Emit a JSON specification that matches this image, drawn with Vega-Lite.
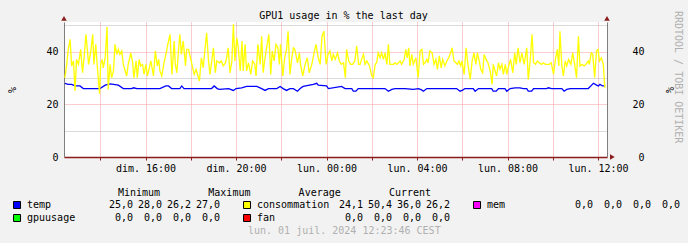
{
  "$schema": "https://vega.github.io/schema/vega-lite/v6.json",
  "background": "#f2f2f2",
  "autosize": {"type": "pad"},
  "padding": {"left": 6, "top": 10, "right": 60, "bottom": 60},
  "config": {
    "font": "DejaVu Sans Mono",
    "view": {"stroke": null},
    "locale": {
      "number": {"decimal": ",", "thousands": ".", "grouping": [3], "currency": ["", " €"]},
      "time": {"dateTime": "%A %e %B %Y à %X", "date": "%d/%m/%Y", "time": "%H:%M:%S", "periods": ["AM", "PM"],
        "days": ["dimanche", "lundi", "mardi", "mercredi", "jeudi", "vendredi", "samedi"],
        "shortDays": ["dim.", "lun.", "mar.", "mer.", "jeu.", "ven.", "sam."],
        "months": ["janvier", "février", "mars", "avril", "mai", "juin", "juillet", "août", "septembre", "octobre", "novembre", "décembre"],
        "shortMonths": ["janv.", "févr.", "mars", "avr.", "mai", "juin", "juil.", "août", "sept.", "oct.", "nov.", "déc."]}
    },
    "axis": {"labelFont": "DejaVu Sans Mono", "labelFontSize": 10, "labelColor": "#000000", "titleFont": "DejaVu Sans Mono", "titleFontSize": 10, "titleFontWeight": "normal", "titleColor": "#000000"},
    "title": {"font": "DejaVu Sans Mono", "fontSize": 10, "fontWeight": "normal", "color": "#000000"},
    "text": {"font": "DejaVu Sans Mono", "fontSize": 10, "color": "#000000"},
    "header": {"labels": false, "title": null},
    "headerFacet": {"labels": false, "title": null}
  },
  "datasets": {
    "temp": [
      {"t":"2024-06-30T12:26","v":28},{"t":"2024-06-30T12:35","v":27.6},{"t":"2024-06-30T12:44","v":27.6},{"t":"2024-06-30T12:53","v":27},
      {"t":"2024-06-30T13:06","v":27},{"t":"2024-06-30T13:15","v":26},{"t":"2024-06-30T13:59","v":26},{"t":"2024-06-30T14:13","v":27.3},
      {"t":"2024-06-30T14:26","v":27.8},{"t":"2024-06-30T14:48","v":27.3},{"t":"2024-06-30T15:01","v":26},{"t":"2024-06-30T15:23","v":26},
      {"t":"2024-06-30T15:28","v":26.3},{"t":"2024-06-30T15:37","v":26},{"t":"2024-06-30T16:38","v":26},{"t":"2024-06-30T16:54","v":27},
      {"t":"2024-06-30T17:01","v":27},{"t":"2024-06-30T17:09","v":26},{"t":"2024-06-30T17:31","v":26},{"t":"2024-06-30T17:36","v":27},
      {"t":"2024-06-30T17:42","v":26},{"t":"2024-06-30T18:55","v":26},{"t":"2024-06-30T19:02","v":27},{"t":"2024-06-30T19:10","v":26},
      {"t":"2024-06-30T19:16","v":25.7},{"t":"2024-06-30T19:40","v":26},{"t":"2024-06-30T19:53","v":25.3},{"t":"2024-06-30T20:00","v":26},
      {"t":"2024-06-30T20:15","v":26.3},{"t":"2024-06-30T20:28","v":26.8},{"t":"2024-06-30T20:55","v":26.8},{"t":"2024-06-30T21:08","v":26},
      {"t":"2024-06-30T21:17","v":25.3},{"t":"2024-06-30T21:26","v":26},{"t":"2024-06-30T21:48","v":26},{"t":"2024-06-30T21:57","v":26.8},
      {"t":"2024-06-30T22:05","v":26},{"t":"2024-06-30T22:14","v":25.3},{"t":"2024-06-30T22:23","v":26},{"t":"2024-06-30T22:32","v":26},
      {"t":"2024-06-30T22:43","v":25},{"t":"2024-06-30T22:50","v":26},{"t":"2024-06-30T22:58","v":26.8},{"t":"2024-06-30T23:25","v":27.6},
      {"t":"2024-06-30T23:34","v":28},{"t":"2024-06-30T23:38","v":27.3},{"t":"2024-07-01T00:00","v":27},{"t":"2024-07-01T00:05","v":26},
      {"t":"2024-07-01T00:40","v":26.8},{"t":"2024-07-01T00:49","v":26},{"t":"2024-07-01T01:07","v":26},{"t":"2024-07-01T01:11","v":25},
      {"t":"2024-07-01T01:18","v":25},{"t":"2024-07-01T01:24","v":26},{"t":"2024-07-01T02:35","v":26},{"t":"2024-07-01T02:44","v":25},
      {"t":"2024-07-01T02:53","v":25.7},{"t":"2024-07-01T03:02","v":26},{"t":"2024-07-01T03:28","v":26},{"t":"2024-07-01T03:50","v":25.7},
      {"t":"2024-07-01T04:04","v":26},{"t":"2024-07-01T04:12","v":25.5},{"t":"2024-07-01T04:17","v":25},{"t":"2024-07-01T04:26","v":26},
      {"t":"2024-07-01T05:45","v":26},{"t":"2024-07-01T05:54","v":25},{"t":"2024-07-01T06:01","v":25.4},{"t":"2024-07-01T06:07","v":26},
      {"t":"2024-07-01T06:29","v":26},{"t":"2024-07-01T06:34","v":25},{"t":"2024-07-01T06:43","v":26},{"t":"2024-07-01T07:18","v":26},
      {"t":"2024-07-01T07:22","v":25},{"t":"2024-07-01T07:30","v":25},{"t":"2024-07-01T07:36","v":26},{"t":"2024-07-01T07:53","v":26},
      {"t":"2024-07-01T07:58","v":25},{"t":"2024-07-01T08:07","v":26},{"t":"2024-07-01T08:20","v":26.3},{"t":"2024-07-01T08:33","v":26.3},
      {"t":"2024-07-01T08:42","v":26},{"t":"2024-07-01T08:51","v":26},{"t":"2024-07-01T08:55","v":25},{"t":"2024-07-01T09:04","v":25},
      {"t":"2024-07-01T09:09","v":26},{"t":"2024-07-01T09:44","v":26},{"t":"2024-07-01T09:48","v":26.3},{"t":"2024-07-01T09:57","v":26},
      {"t":"2024-07-01T10:24","v":26},{"t":"2024-07-01T10:30","v":25},{"t":"2024-07-01T10:37","v":25.7},{"t":"2024-07-01T10:46","v":26},
      {"t":"2024-07-01T11:34","v":26},{"t":"2024-07-01T11:43","v":27.3},{"t":"2024-07-01T11:48","v":28},{"t":"2024-07-01T11:56","v":27.3},
      {"t":"2024-07-01T12:01","v":27},{"t":"2024-07-01T12:05","v":27.6},{"t":"2024-07-01T12:12","v":27},{"t":"2024-07-01T12:19","v":27}
    ],
    "consommation": [
      {"t":"2024-06-30T12:26","v":30.1},{"t":"2024-06-30T12:31","v":35.2},{"t":"2024-06-30T12:35","v":40.9},{"t":"2024-06-30T12:40","v":44.7},
      {"t":"2024-06-30T12:44","v":34.6},{"t":"2024-06-30T12:49","v":36.5},{"t":"2024-06-30T12:53","v":25.1},{"t":"2024-06-30T12:57","v":37.1},
      {"t":"2024-06-30T13:02","v":35.2},{"t":"2024-06-30T13:08","v":40.9},{"t":"2024-06-30T13:13","v":32.0},{"t":"2024-06-30T13:17","v":37.7},
      {"t":"2024-06-30T13:22","v":46.6},{"t":"2024-06-30T13:26","v":40.3},{"t":"2024-06-30T13:29","v":35.2},{"t":"2024-06-30T13:35","v":40.3},
      {"t":"2024-06-30T13:40","v":46.6},{"t":"2024-06-30T13:43","v":35.2},{"t":"2024-06-30T13:48","v":42.8},{"t":"2024-06-30T13:52","v":34.6},
      {"t":"2024-06-30T13:58","v":24.1},{"t":"2024-06-30T14:01","v":35.2},{"t":"2024-06-30T14:05","v":37.1},{"t":"2024-06-30T14:08","v":33.9},
      {"t":"2024-06-30T14:13","v":37.7},{"t":"2024-06-30T14:18","v":49.4},{"t":"2024-06-30T14:21","v":25.7},{"t":"2024-06-30T14:26","v":35.2},
      {"t":"2024-06-30T14:30","v":30.1},{"t":"2024-06-30T14:35","v":32.7},{"t":"2024-06-30T14:39","v":42.8},{"t":"2024-06-30T14:44","v":39.0},
      {"t":"2024-06-30T14:48","v":40.9},{"t":"2024-06-30T14:52","v":39.0},{"t":"2024-06-30T14:57","v":40.3},{"t":"2024-06-30T15:01","v":35.2},
      {"t":"2024-06-30T15:06","v":32.7},{"t":"2024-06-30T15:10","v":30.8},{"t":"2024-06-30T15:14","v":35.2},{"t":"2024-06-30T15:21","v":39.6},
      {"t":"2024-06-30T15:26","v":35.8},{"t":"2024-06-30T15:29","v":30.1},{"t":"2024-06-30T15:35","v":36.5},{"t":"2024-06-30T15:38","v":30.1},
      {"t":"2024-06-30T15:43","v":37.1},{"t":"2024-06-30T15:47","v":34.6},{"t":"2024-06-30T15:52","v":35.2},{"t":"2024-06-30T15:56","v":31.4},
      {"t":"2024-06-30T16:01","v":35.2},{"t":"2024-06-30T16:05","v":30.8},{"t":"2024-06-30T16:10","v":33.9},{"t":"2024-06-30T16:14","v":36.5},
      {"t":"2024-06-30T16:21","v":30.8},{"t":"2024-06-30T16:26","v":40.3},{"t":"2024-06-30T16:31","v":34.6},{"t":"2024-06-30T16:35","v":37.1},
      {"t":"2024-06-30T16:38","v":32.7},{"t":"2024-06-30T16:43","v":30.8},{"t":"2024-06-30T16:49","v":35.8},{"t":"2024-06-30T16:54","v":39.0},
      {"t":"2024-06-30T17:01","v":44.1},{"t":"2024-06-30T17:05","v":46.6},{"t":"2024-06-30T17:10","v":31.4},{"t":"2024-06-30T17:16","v":44.1},
      {"t":"2024-06-30T17:19","v":35.2},{"t":"2024-06-30T17:23","v":32.0},{"t":"2024-06-30T17:28","v":41.5},{"t":"2024-06-30T17:31","v":46.6},
      {"t":"2024-06-30T17:35","v":39.0},{"t":"2024-06-30T17:40","v":44.1},{"t":"2024-06-30T17:46","v":34.6},{"t":"2024-06-30T17:49","v":40.9},
      {"t":"2024-06-30T17:54","v":40.9},{"t":"2024-06-30T18:00","v":37.1},{"t":"2024-06-30T18:03","v":35.2},{"t":"2024-06-30T18:09","v":31.4},
      {"t":"2024-06-30T18:14","v":33.3},{"t":"2024-06-30T18:19","v":30.8},{"t":"2024-06-30T18:23","v":28.9},{"t":"2024-06-30T18:28","v":37.7},
      {"t":"2024-06-30T18:33","v":33.9},{"t":"2024-06-30T18:38","v":41.5},{"t":"2024-06-30T18:42","v":47.2},{"t":"2024-06-30T18:47","v":36.5},
      {"t":"2024-06-30T18:51","v":31.4},{"t":"2024-06-30T18:55","v":35.8},{"t":"2024-06-30T19:00","v":41.5},{"t":"2024-06-30T19:05","v":32.0},
      {"t":"2024-06-30T19:09","v":36.5},{"t":"2024-06-30T19:16","v":35.8},{"t":"2024-06-30T19:21","v":36.5},{"t":"2024-06-30T19:26","v":34.6},
      {"t":"2024-06-30T19:32","v":35.8},{"t":"2024-06-30T19:35","v":37.7},{"t":"2024-06-30T19:39","v":41.5},{"t":"2024-06-30T19:44","v":32.0},
      {"t":"2024-06-30T19:49","v":36.5},{"t":"2024-06-30T19:53","v":50.4},{"t":"2024-06-30T19:57","v":36.5},{"t":"2024-06-30T20:02","v":45.3},
      {"t":"2024-06-30T20:06","v":41.5},{"t":"2024-06-30T20:11","v":32.7},{"t":"2024-06-30T20:16","v":44.1},{"t":"2024-06-30T20:19","v":32.7},
      {"t":"2024-06-30T20:24","v":42.8},{"t":"2024-06-30T20:28","v":32.7},{"t":"2024-06-30T20:33","v":35.8},{"t":"2024-06-30T20:39","v":31.4},
      {"t":"2024-06-30T20:44","v":36.5},{"t":"2024-06-30T20:50","v":35.2},{"t":"2024-06-30T20:53","v":30.8},{"t":"2024-06-30T20:58","v":42.8},
      {"t":"2024-06-30T21:04","v":35.2},{"t":"2024-06-30T21:08","v":45.9},{"t":"2024-06-30T21:12","v":32.0},{"t":"2024-06-30T21:17","v":37.7},
      {"t":"2024-06-30T21:21","v":41.5},{"t":"2024-06-30T21:27","v":46.6},{"t":"2024-06-30T21:32","v":31.4},{"t":"2024-06-30T21:36","v":40.3},
      {"t":"2024-06-30T21:41","v":36.5},{"t":"2024-06-30T21:46","v":42.8},{"t":"2024-06-30T21:51","v":41.5},{"t":"2024-06-30T21:55","v":35.2},
      {"t":"2024-06-30T21:58","v":42.8},{"t":"2024-06-30T22:04","v":30.8},{"t":"2024-06-30T22:09","v":37.7},{"t":"2024-06-30T22:14","v":40.9},
      {"t":"2024-06-30T22:18","v":47.8},{"t":"2024-06-30T22:23","v":31.4},{"t":"2024-06-30T22:28","v":37.7},{"t":"2024-06-30T22:32","v":41.5},
      {"t":"2024-06-30T22:36","v":40.9},{"t":"2024-06-30T22:43","v":35.8},{"t":"2024-06-30T22:48","v":39.6},{"t":"2024-06-30T22:51","v":35.2},
      {"t":"2024-06-30T22:57","v":30.8},{"t":"2024-06-30T23:03","v":35.2},{"t":"2024-06-30T23:09","v":37.7},{"t":"2024-06-30T23:14","v":32.0},
      {"t":"2024-06-30T23:21","v":35.2},{"t":"2024-06-30T23:27","v":39.6},{"t":"2024-06-30T23:32","v":42.8},{"t":"2024-06-30T23:38","v":37.7},
      {"t":"2024-06-30T23:43","v":35.2},{"t":"2024-06-30T23:48","v":45.9},{"t":"2024-06-30T23:53","v":47.8},{"t":"2024-06-30T23:59","v":35.2},
      {"t":"2024-07-01T00:04","v":39.0},{"t":"2024-07-01T00:09","v":40.3},{"t":"2024-07-01T00:14","v":36.5},{"t":"2024-07-01T00:18","v":39.0},
      {"t":"2024-07-01T00:23","v":37.1},{"t":"2024-07-01T00:29","v":39.6},{"t":"2024-07-01T00:34","v":36.5},{"t":"2024-07-01T00:39","v":35.2},
      {"t":"2024-07-01T00:45","v":35.8},{"t":"2024-07-01T00:50","v":30.1},{"t":"2024-07-01T00:53","v":40.9},{"t":"2024-07-01T00:59","v":36.5},
      {"t":"2024-07-01T01:04","v":35.2},{"t":"2024-07-01T01:09","v":35.2},{"t":"2024-07-01T01:15","v":36.5},{"t":"2024-07-01T01:20","v":42.2},
      {"t":"2024-07-01T01:25","v":35.2},{"t":"2024-07-01T01:29","v":35.2},{"t":"2024-07-01T01:33","v":37.1},{"t":"2024-07-01T01:38","v":39.0},
      {"t":"2024-07-01T01:42","v":35.2},{"t":"2024-07-01T01:47","v":36.5},{"t":"2024-07-01T01:54","v":34.6},{"t":"2024-07-01T02:00","v":30.8},
      {"t":"2024-07-01T02:04","v":30.1},{"t":"2024-07-01T02:09","v":35.2},{"t":"2024-07-01T02:13","v":35.8},{"t":"2024-07-01T02:17","v":39.6},
      {"t":"2024-07-01T02:22","v":37.7},{"t":"2024-07-01T02:26","v":39.6},{"t":"2024-07-01T02:31","v":37.1},{"t":"2024-07-01T02:35","v":39.6},
      {"t":"2024-07-01T02:40","v":35.2},{"t":"2024-07-01T02:44","v":42.8},{"t":"2024-07-01T02:48","v":35.2},{"t":"2024-07-01T02:53","v":35.2},
      {"t":"2024-07-01T02:57","v":35.2},{"t":"2024-07-01T03:02","v":35.8},{"t":"2024-07-01T03:06","v":35.2},{"t":"2024-07-01T03:11","v":35.8},
      {"t":"2024-07-01T03:15","v":36.5},{"t":"2024-07-01T03:19","v":35.2},{"t":"2024-07-01T03:26","v":37.1},{"t":"2024-07-01T03:30","v":40.9},
      {"t":"2024-07-01T03:34","v":37.7},{"t":"2024-07-01T03:38","v":41.5},{"t":"2024-07-01T03:41","v":34.6},{"t":"2024-07-01T03:46","v":39.0},
      {"t":"2024-07-01T03:50","v":35.2},{"t":"2024-07-01T03:57","v":37.7},{"t":"2024-07-01T04:03","v":30.1},{"t":"2024-07-01T04:08","v":40.3},
      {"t":"2024-07-01T04:13","v":40.9},{"t":"2024-07-01T04:17","v":35.2},{"t":"2024-07-01T04:21","v":35.8},{"t":"2024-07-01T04:26","v":37.1},
      {"t":"2024-07-01T04:29","v":35.8},{"t":"2024-07-01T04:34","v":40.3},{"t":"2024-07-01T04:40","v":39.6},{"t":"2024-07-01T04:45","v":35.2},
      {"t":"2024-07-01T04:50","v":37.1},{"t":"2024-07-01T04:54","v":33.3},{"t":"2024-07-01T04:59","v":38.4},{"t":"2024-07-01T05:04","v":33.9},
      {"t":"2024-07-01T05:08","v":37.1},{"t":"2024-07-01T05:14","v":34.6},{"t":"2024-07-01T05:19","v":36.5},{"t":"2024-07-01T05:24","v":37.7},
      {"t":"2024-07-01T05:29","v":39.6},{"t":"2024-07-01T05:33","v":41.5},{"t":"2024-07-01T05:38","v":36.5},{"t":"2024-07-01T05:43","v":35.8},
      {"t":"2024-07-01T05:47","v":35.2},{"t":"2024-07-01T05:51","v":36.5},{"t":"2024-07-01T05:56","v":34.6},{"t":"2024-07-01T05:59","v":36.5},
      {"t":"2024-07-01T06:05","v":31.4},{"t":"2024-07-01T06:10","v":41.5},{"t":"2024-07-01T06:15","v":35.2},{"t":"2024-07-01T06:21","v":29.5},
      {"t":"2024-07-01T06:26","v":36.5},{"t":"2024-07-01T06:31","v":39.6},{"t":"2024-07-01T06:36","v":35.2},{"t":"2024-07-01T06:40","v":39.6},
      {"t":"2024-07-01T06:45","v":36.5},{"t":"2024-07-01T06:49","v":33.3},{"t":"2024-07-01T06:54","v":32.0},{"t":"2024-07-01T06:58","v":39.0},
      {"t":"2024-07-01T07:03","v":37.1},{"t":"2024-07-01T07:08","v":35.8},{"t":"2024-07-01T07:14","v":32.7},{"t":"2024-07-01T07:19","v":27.6},
      {"t":"2024-07-01T07:22","v":35.2},{"t":"2024-07-01T07:27","v":32.7},{"t":"2024-07-01T07:31","v":30.8},{"t":"2024-07-01T07:36","v":35.8},
      {"t":"2024-07-01T07:40","v":33.3},{"t":"2024-07-01T07:45","v":35.2},{"t":"2024-07-01T07:49","v":31.4},{"t":"2024-07-01T07:54","v":35.2},
      {"t":"2024-07-01T07:58","v":31.4},{"t":"2024-07-01T08:03","v":34.6},{"t":"2024-07-01T08:08","v":37.1},{"t":"2024-07-01T08:14","v":32.0},
      {"t":"2024-07-01T08:19","v":39.6},{"t":"2024-07-01T08:23","v":35.2},{"t":"2024-07-01T08:28","v":41.5},{"t":"2024-07-01T08:33","v":35.8},
      {"t":"2024-07-01T08:38","v":39.6},{"t":"2024-07-01T08:44","v":35.2},{"t":"2024-07-01T08:51","v":41.5},{"t":"2024-07-01T08:55","v":29.5},
      {"t":"2024-07-01T09:00","v":36.5},{"t":"2024-07-01T09:05","v":46.6},{"t":"2024-07-01T09:09","v":35.8},{"t":"2024-07-01T09:14","v":35.2},
      {"t":"2024-07-01T09:19","v":36.5},{"t":"2024-07-01T09:24","v":35.8},{"t":"2024-07-01T09:30","v":35.2},{"t":"2024-07-01T09:35","v":35.8},
      {"t":"2024-07-01T09:40","v":35.2},{"t":"2024-07-01T09:46","v":35.2},{"t":"2024-07-01T09:51","v":35.2},{"t":"2024-07-01T09:56","v":35.8},
      {"t":"2024-07-01T10:02","v":31.4},{"t":"2024-07-01T10:07","v":37.1},{"t":"2024-07-01T10:12","v":40.9},{"t":"2024-07-01T10:16","v":34.6},
      {"t":"2024-07-01T10:19","v":47.8},{"t":"2024-07-01T10:24","v":34.6},{"t":"2024-07-01T10:28","v":30.8},{"t":"2024-07-01T10:33","v":36.5},
      {"t":"2024-07-01T10:37","v":34.6},{"t":"2024-07-01T10:42","v":37.1},{"t":"2024-07-01T10:48","v":35.2},{"t":"2024-07-01T10:53","v":39.6},
      {"t":"2024-07-01T10:58","v":35.2},{"t":"2024-07-01T11:03","v":30.1},{"t":"2024-07-01T11:08","v":45.9},{"t":"2024-07-01T11:12","v":34.6},
      {"t":"2024-07-01T11:18","v":35.2},{"t":"2024-07-01T11:23","v":34.6},{"t":"2024-07-01T11:28","v":35.2},{"t":"2024-07-01T11:34","v":36.5},
      {"t":"2024-07-01T11:37","v":35.2},{"t":"2024-07-01T11:42","v":39.6},{"t":"2024-07-01T11:46","v":39.0},{"t":"2024-07-01T11:51","v":30.1},
      {"t":"2024-07-01T11:56","v":40.3},{"t":"2024-07-01T12:00","v":40.9},{"t":"2024-07-01T12:04","v":36.5},{"t":"2024-07-01T12:09","v":37.7},
      {"t":"2024-07-01T12:14","v":35.2},{"t":"2024-07-01T12:18","v":26.2}
    ],
    "stats": [
      {"series":"temp","Minimum":25.0,"Maximum":28.0,"Average":26.2,"Current":27.0},
      {"series":"consommation","Minimum":24.1,"Maximum":50.4,"Average":36.0,"Current":26.2},
      {"series":"mem","Minimum":0,"Maximum":0,"Average":0,"Current":0},
      {"series":"gpuusage","Minimum":0,"Maximum":0,"Average":0,"Current":0},
      {"series":"fan","Minimum":0,"Maximum":0,"Average":0,"Current":0}
    ]
  },
  "title": {"text": "lun. 01 juil. 2024 12:23:46 CEST", "orient": "bottom", "anchor": "start", "dx": 242, "offset": 2, "color": "#b0b0b0"},
  "spacing": 15,
  "vconcat": [
    {
      "title": {"text": "RRDTOOL / TOBI OETIKER", "orient": "right", "anchor": "start", "frame": "bounds", "offset": 0, "color": "#b0b0b0"},
      "spacing": 0,
      "hconcat": [
        {
          "width": 1,
          "height": 135,
          "data": {"values": []},
          "mark": {"type": "point"}
        },
        {
          "width": 543,
          "height": 135,
          "view": {"fill": "#ffffff", "stroke": null},
          "title": {"text": "GPU1 usage in % the last day", "anchor": "middle", "frame": "group", "dx": 8, "offset": -5},
          "layer": [
            {
              "data": {"name": "temp"},
              "mark": {"type": "line", "strokeWidth": 1.3},
              "encoding": {
                "x": {"field": "t", "type": "temporal",
                  "scale": {"domain": [{"year": 2024, "month": 6, "date": 30, "hours": 12, "minutes": 23, "seconds": 46}, {"year": 2024, "month": 7, "date": 1, "hours": 12, "minutes": 23, "seconds": 46}]},
                  "axis": {"orient": "bottom", "title": null,
                    "values": [
                      {"year": 2024, "month": 6, "date": 30, "hours": 16}, {"year": 2024, "month": 6, "date": 30, "hours": 20}, {"year": 2024, "month": 7, "date": 1, "hours": 0},
                      {"year": 2024, "month": 7, "date": 1, "hours": 4}, {"year": 2024, "month": 7, "date": 1, "hours": 8}, {"year": 2024, "month": 7, "date": 1, "hours": 12}
                    ],
                    "format": "%a %H:%M",
                    "labelOverlap": false, "labelFlush": false, "labelAngle": 0, "labelPadding": 3,
                    "grid": true, "gridDash": [1, 1], "gridColor": "#f29a9a",
                    "tickSize": 3, "tickColor": "#8b1c1c",
                    "domainColor": "#8b1c1c", "domainWidth": 1.5}},
                "y": {"field": "v", "type": "quantitative", "scale": {"domain": [0, 51.3]},
                  "axis": {"orient": "left", "values": [0, 10, 20, 30, 40, 50], "labelExpr": "datum.value % 20 == 0 ? datum.label : ''",
                    "grid": true, "gridDash": [1, 1],
                    "gridColor": {"condition": {"test": "datum.value % 20 == 0", "value": "#f29a9a"}, "value": "#b4b4b4"},
                    "ticks": false, "labelPadding": 6, "domainColor": "#7f7f7f", "title": "%", "titlePadding": 28}},
                "color": {"datum": "temp", "type": "nominal", "scale": {"domain": ["temp", "consommation", "mem", "gpuusage", "fan"], "range": ["#0000ff", "#ffff00", "#ff00ff", "#00ff00", "#ff0000"]}, "legend": null}
              }
            },
            {
              "data": {"name": "consommation"},
              "mark": {"type": "line", "strokeWidth": 1.3},
              "encoding": {
                "x": {"field": "t", "type": "temporal",
                  "scale": {"domain": [{"year": 2024, "month": 6, "date": 30, "hours": 12, "minutes": 23, "seconds": 46}, {"year": 2024, "month": 7, "date": 1, "hours": 12, "minutes": 23, "seconds": 46}]},
                  "axis": {"orient": "bottom", "title": null,
                    "values": [
                      {"year": 2024, "month": 6, "date": 30, "hours": 14}, {"year": 2024, "month": 6, "date": 30, "hours": 18}, {"year": 2024, "month": 6, "date": 30, "hours": 22},
                      {"year": 2024, "month": 7, "date": 1, "hours": 2}, {"year": 2024, "month": 7, "date": 1, "hours": 6}, {"year": 2024, "month": 7, "date": 1, "hours": 10}
                    ],
                    "labels": false, "domain": false,
                    "grid": true, "gridDash": [1, 1], "gridColor": "#f29a9a",
                    "tickSize": 3, "tickColor": "#8b1c1c"}},
                "y": {"field": "v", "type": "quantitative", "scale": {"domain": [0, 51.3]},
                  "axis": {"orient": "right", "values": [0, 20, 40], "grid": false, "ticks": false, "labelAlign": "right", "labelPadding": 37,
                    "domainColor": "#7f7f7f", "title": "%", "titlePadding": 19}},
                "color": {"datum": "consommation", "type": "nominal", "scale": {"domain": ["temp", "consommation", "mem", "gpuusage", "fan"], "range": ["#0000ff", "#ffff00", "#ff00ff", "#00ff00", "#ff0000"]}, "legend": null}
              }
            },
            {
              "data": {"values": [{}]},
              "layer": [
                {
                  "mark": {"type": "point", "shape": "triangle-up", "filled": true, "size": 30, "color": "#8b1c1c", "opacity": 1},
                  "encoding": {
                    "x": {"datum": {"year": 2024, "month": 6, "date": 30, "hours": 12, "minutes": 23, "seconds": 46}, "type": "temporal",
                      "scale": {"domain": [{"year": 2024, "month": 6, "date": 30, "hours": 12, "minutes": 23, "seconds": 46}, {"year": 2024, "month": 7, "date": 1, "hours": 12, "minutes": 23, "seconds": 46}]},
                      "axis": {"orient": "bottom", "title": null,
                        "values": [
                          {"year": 2024, "month": 6, "date": 30, "hours": 13}, {"year": 2024, "month": 6, "date": 30, "hours": 15}, {"year": 2024, "month": 6, "date": 30, "hours": 17},
                          {"year": 2024, "month": 6, "date": 30, "hours": 19}, {"year": 2024, "month": 6, "date": 30, "hours": 21}, {"year": 2024, "month": 6, "date": 30, "hours": 23},
                          {"year": 2024, "month": 7, "date": 1, "hours": 1}, {"year": 2024, "month": 7, "date": 1, "hours": 3}, {"year": 2024, "month": 7, "date": 1, "hours": 5},
                          {"year": 2024, "month": 7, "date": 1, "hours": 7}, {"year": 2024, "month": 7, "date": 1, "hours": 9}, {"year": 2024, "month": 7, "date": 1, "hours": 11}
                        ],
                        "labels": false, "domain": false, "ticks": false,
                        "grid": true, "gridDash": [1, 1], "gridColor": "#b4b4b4"}},
                    "y": {"datum": 52.7, "type": "quantitative", "scale": {"domain": [0, 51.3]}, "axis": null}
                  }
                },
                {
                  "mark": {"type": "point", "shape": "triangle-up", "filled": true, "size": 30, "color": "#8b1c1c", "opacity": 1},
                  "encoding": {
                    "x": {"datum": {"year": 2024, "month": 7, "date": 1, "hours": 12, "minutes": 23, "seconds": 46}, "type": "temporal",
                      "scale": {"domain": [{"year": 2024, "month": 6, "date": 30, "hours": 12, "minutes": 23, "seconds": 46}, {"year": 2024, "month": 7, "date": 1, "hours": 12, "minutes": 23, "seconds": 46}]}, "axis": null},
                    "y": {"datum": 52.7, "type": "quantitative", "scale": {"domain": [0, 51.3]}, "axis": null}
                  }
                },
                {
                  "mark": {"type": "point", "shape": "triangle-right", "filled": true, "size": 30, "color": "#8b1c1c", "opacity": 1},
                  "encoding": {
                    "x": {"datum": {"year": 2024, "month": 7, "date": 1, "hours": 12, "minutes": 38, "seconds": 0}, "type": "temporal",
                      "scale": {"domain": [{"year": 2024, "month": 6, "date": 30, "hours": 12, "minutes": 23, "seconds": 46}, {"year": 2024, "month": 7, "date": 1, "hours": 12, "minutes": 23, "seconds": 46}]}, "axis": null},
                    "y": {"datum": 0, "type": "quantitative", "scale": {"domain": [0, 51.3]}, "axis": null}
                  }
                }
              ]
            }
          ],
          "resolve": {"scale": {"y": "independent"}, "axis": {"x": "independent", "y": "independent"}}
        }
      ]
    },
    {
      "data": {"name": "stats"},
      "title": {"text": "Minimum\u00a0\u00a0\u00a0\u00a0\u00a0\u00a0\u00a0\u00a0Maximum\u00a0\u00a0\u00a0\u00a0\u00a0\u00a0\u00a0\u00a0Average\u00a0\u00a0\u00a0\u00a0\u00a0\u00a0\u00a0\u00a0Current", "anchor": "start", "dx": 112, "offset": 0},
      "facet": {"field": "series", "type": "nominal", "sort": ["temp", "consommation", "mem", "gpuusage", "fan"], "title": null,
        "header": {"labels": false, "title": null, "labelColor": "transparent", "labelFontSize": 1, "labelPadding": 0}},
      "columns": 3,
      "spacing": {"row": 0, "column": 5},
      "spec": {
        "width": 225,
        "height": 12,
        "view": {"stroke": null},
        "layer": [
          {
            "mark": {"type": "point", "shape": "square", "filled": true, "size": 49, "stroke": "#000000", "strokeWidth": 1, "opacity": 1},
            "encoding": {
              "x": {"datum": "sq", "type": "nominal", "scale": {"type": "point", "domain": ["sq", "n1", "n2", "n3", "Minimum", "Maximum", "Average", "Current"], "padding": 0.38}, "axis": null},
              "color": {"field": "series", "type": "nominal", "scale": {"domain": ["temp", "consommation", "mem", "gpuusage", "fan"], "range": ["#0000ff", "#ffff00", "#ff00ff", "#00ff00", "#ff0000"]}, "legend": null}
            }
          },
          {
            "mark": {"type": "text", "align": "left", "baseline": "middle", "dx": 10},
            "encoding": {
              "x": {"datum": "sq", "type": "nominal", "scale": {"type": "point", "domain": ["sq", "n1", "n2", "n3", "Minimum", "Maximum", "Average", "Current"], "padding": 0.38}, "axis": null},
              "text": {"field": "series", "type": "nominal"}
            }
          },
          {
            "transform": [{"fold": ["Minimum", "Maximum", "Average", "Current"], "as": ["stat", "v"]}],
            "mark": {"type": "text", "align": "right", "baseline": "middle"},
            "encoding": {
              "x": {"field": "stat", "type": "nominal", "scale": {"type": "point", "domain": ["sq", "n1", "n2", "n3", "Minimum", "Maximum", "Average", "Current"], "padding": 0.38}, "axis": null},
              "text": {"field": "v", "type": "quantitative", "format": ".1f"}
            }
          }
        ]
      }
    }
  ]
}
